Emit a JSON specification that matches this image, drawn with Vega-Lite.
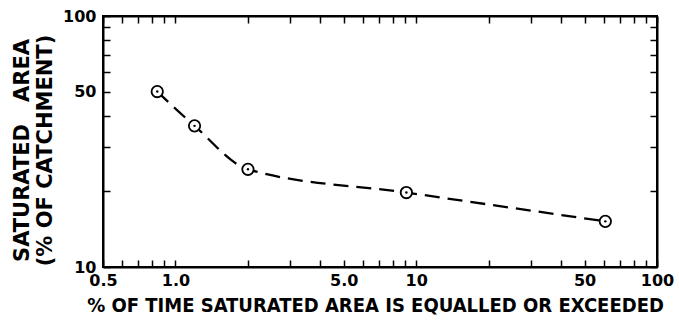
{
  "$schema": "https://vega.github.io/schema/vega-lite/v6.json",
  "autosize": "none",
  "padding": {"left": 103, "top": 16, "right": 22, "bottom": 59},
  "width": 554,
  "height": 251,
  "background": "white",
  "config": {
    "view": {"stroke": "black", "strokeWidth": 2},
    "axis": {
      "domain": true,
      "domainColor": "black",
      "domainWidth": 2,
      "tickColor": "black",
      "tickWidth": 1.5,
      "tickSize": -7,
      "grid": false,
      "labelFont": "DejaVu Sans",
      "labelFontWeight": "bold",
      "labelFontSize": 16,
      "labelColor": "black",
      "labelOverlap": false,
      "labelFlush": false,
      "labelBound": false,
      "titleColor": "black"
    }
  },
  "data": {
    "values": [
      {"pct_time": 0.84, "area": 50},
      {"pct_time": 1.2, "area": 36.5},
      {"pct_time": 2.0, "area": 24.5},
      {"pct_time": 9.1, "area": 19.8},
      {"pct_time": 61, "area": 15.2}
    ]
  },
  "layer": [
    {
      "mark": {"type": "line", "interpolate": "monotone", "color": "black", "strokeWidth": 2.3, "strokeDash": [15, 8]},
      "encoding": {
        "x": {
          "field": "pct_time", "type": "quantitative",
          "scale": {"type": "log", "domain": [0.5, 100], "nice": false},
          "axis": {
            "orient": "bottom",
            "values": [0.5, 0.6, 0.7, 0.8, 0.9, 1, 2, 3, 4, 5, 6, 7, 8, 9, 10, 20, 30, 40, 50, 60, 70, 80, 90, 100],
            "labelExpr": "datum.value == 0.5 ? '0.5' : datum.value == 1 ? '1.0' : datum.value == 5 ? '5.0' : datum.value == 10 ? '10' : datum.value == 50 ? '50' : datum.value == 100 ? '100' : ''",
            "labelPadding": 12,
            "title": "% OF TIME SATURATED AREA IS EQUALLED OR EXCEEDED",
            "titleFont": "DejaVu Sans Condensed",
            "titleFontWeight": "bold",
            "titleFontSize": 20,
            "titlePadding": 7,
            "titleX": 272
          }
        },
        "y": {
          "field": "area", "type": "quantitative",
          "scale": {"type": "log", "domain": [10, 100], "nice": false},
          "axis": {
            "orient": "left",
            "values": [10, 20, 30, 40, 50, 60, 70, 80, 90, 100],
            "labelExpr": "datum.value == 10 ? '10' : datum.value == 50 ? '50' : datum.value == 100 ? '100' : ''",
            "labelPadding": 14,
            "title": ["SATURATED\u00a0\u00a0\u00a0AREA", "(% OF CATCHMENT)"],
            "titleFont": "DejaVu Sans",
            "titleFontWeight": "bold",
            "titleFontSize": 21,
            "titleLineHeight": 23,
            "titleBaseline": "middle",
            "titleAlign": "center",
            "titleAngle": -90,
            "titleX": -81,
            "titleY": 134
          }
        }
      }
    },
    {
      "mark": {"type": "point", "shape": "circle", "filled": false, "fill": "white", "stroke": "black", "strokeWidth": 1.8, "size": 130, "opacity": 1},
      "encoding": {
        "x": {
          "field": "pct_time", "type": "quantitative",
          "axis": {
            "orient": "top",
            "values": [0.5, 0.6, 0.7, 0.8, 0.9, 1, 2, 3, 4, 5, 6, 7, 8, 9, 10, 20, 30, 40, 50, 60, 70, 80, 90, 100],
            "labels": false,
            "title": null
          }
        },
        "y": {
          "field": "area", "type": "quantitative",
          "axis": {
            "orient": "right",
            "values": [10, 20, 30, 40, 50, 60, 70, 80, 90, 100],
            "labels": false,
            "title": null
          }
        }
      }
    },
    {
      "mark": {"type": "point", "shape": "circle", "filled": true, "color": "black", "size": 6, "opacity": 1},
      "encoding": {
        "x": {"field": "pct_time", "type": "quantitative", "axis": null},
        "y": {"field": "area", "type": "quantitative", "axis": null}
      }
    }
  ],
  "resolve": {"axis": {"x": "independent", "y": "independent"}}
}
